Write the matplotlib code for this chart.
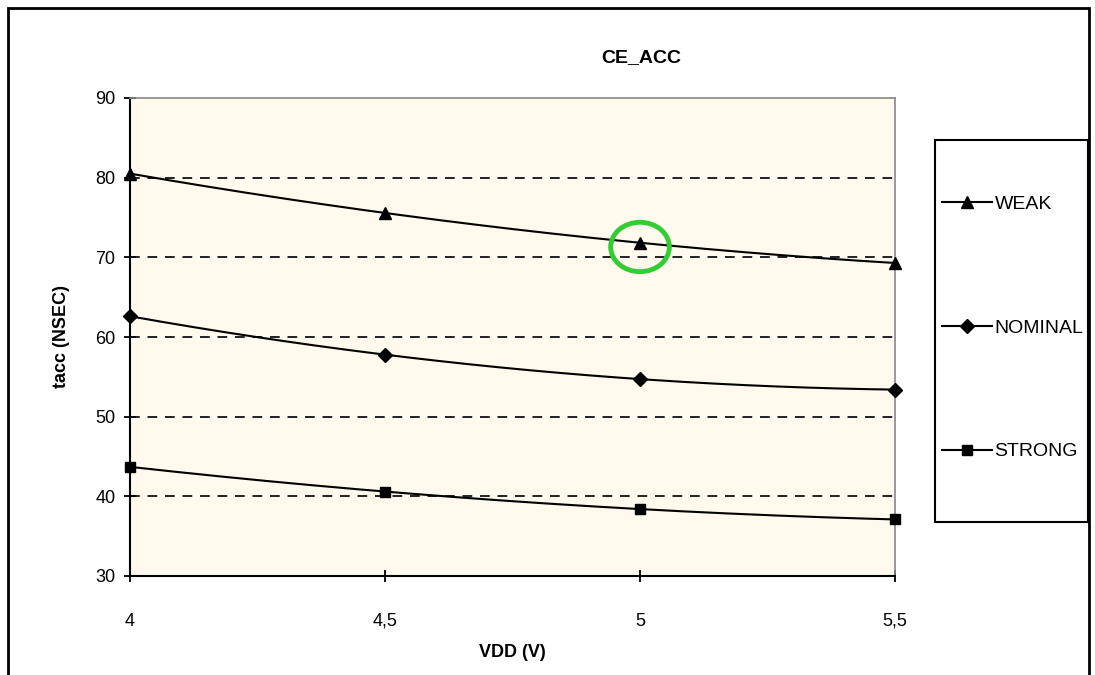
import numpy as np
import matplotlib
matplotlib.use("Agg")
import matplotlib.pyplot as plt
from matplotlib.patches import Rectangle, Ellipse
from matplotlib.lines import Line2D

plt.rcParams['font.family'] = ['Liberation Sans', 'DejaVu Sans']

vdd = [4.0, 4.5, 5.0, 5.5]
xtick_labels = ["4", "4,5", "5", "5,5"]
weak = [80.5, 75.6, 71.8, 69.3]
nominal = [62.6, 57.8, 54.7, 53.4]
strong = [43.7, 40.6, 38.4, 37.1]
series_names = ["WEAK", "NOMINAL", "STRONG"]
series_markers = ["^", "D", "s"]
yticks = [30, 40, 50, 60, 70, 80, 90]

fig = plt.figure(figsize=(10.95, 6.75), dpi=100)
W, H = 1095, 675

def fx(px):
    return px / W

def fy(py):
    return 1 - py / H

# outer frame
fig.patches.append(Rectangle((fx(8), fy(690)), fx(1089) - fx(8), fy(8) - fy(690),
                             transform=fig.transFigure, fill=False, edgecolor='black',
                             linewidth=2, zorder=0))

ax = fig.add_axes([fx(130), fy(576), fx(895) - fx(130), fy(98) - fy(576)])
ax.set_facecolor('#FFF9EE')
ax.set_xlim(4.0, 5.5)
ax.set_ylim(30, 90)

for g in [40, 50, 60, 70, 80]:
    ax.axhline(g, color='#222222', linewidth=1.4, linestyle=(0, (5, 4)), zorder=1)

xs = np.linspace(4.0, 5.5, 200)
handles = []
for vals, name, mk in zip([weak, nominal, strong], series_names, series_markers):
    coef = np.polyfit(vdd, vals, 2)
    ax.plot(xs, np.polyval(coef, xs), color='black', linewidth=1.5, zorder=3)
    ms = 8 if mk == '^' else (7 if mk == 'D' else 7.5)
    ax.plot(vdd, vals, linestyle='none', marker=mk, color='black', markersize=ms,
            zorder=4, clip_on=False)
    handles.append(Line2D([], [], color='black', linewidth=1.5, marker=mk, markersize=ms))

# highlight circle
ax.add_patch(Ellipse((5.0, 71.3), 0.115, 6.2, fill=False, edgecolor='#33CC33',
                     linewidth=3.5, zorder=5, clip_on=False))

for side in ['top', 'right']:
    ax.spines[side].set_color('#888888')
    ax.spines[side].set_linewidth(1.2)
for side in ['left', 'bottom']:
    ax.spines[side].set_color('black')
    ax.spines[side].set_linewidth(1.5)

ax.set_xticks(vdd)
ax.set_xticklabels(xtick_labels)
ax.set_yticks(yticks)
ax.tick_params(axis='x', direction='inout', length=9, width=1.3, pad=22, labelsize=13)
ax.tick_params(axis='y', direction='inout', length=9, width=1.3, pad=6, labelsize=13)

ax.set_xlabel("VDD (V)", fontsize=13, fontweight='bold', labelpad=10)
ax.set_ylabel("tacc (NSEC)", fontsize=13, fontweight='bold', labelpad=18)

fig.text(fx(641), fy(58), "CE_ACC", ha='center', va='center', fontsize=14, fontweight='bold')

# legend box
fig.patches.append(Rectangle((fx(935), fy(522)), fx(1088) - fx(935), fy(140) - fy(522),
                             transform=fig.transFigure, fill=False, edgecolor='black',
                             linewidth=1.5, zorder=0))
leg = fig.legend(handles, series_names, loc='center left',
                 bbox_to_anchor=(fx(942), fy(328)), frameon=False, fontsize=14,
                 handlelength=2.55, handletextpad=0.15, labelspacing=5.45,
                 borderpad=0, borderaxespad=0)

fig.savefig("out.png", dpi=100)
